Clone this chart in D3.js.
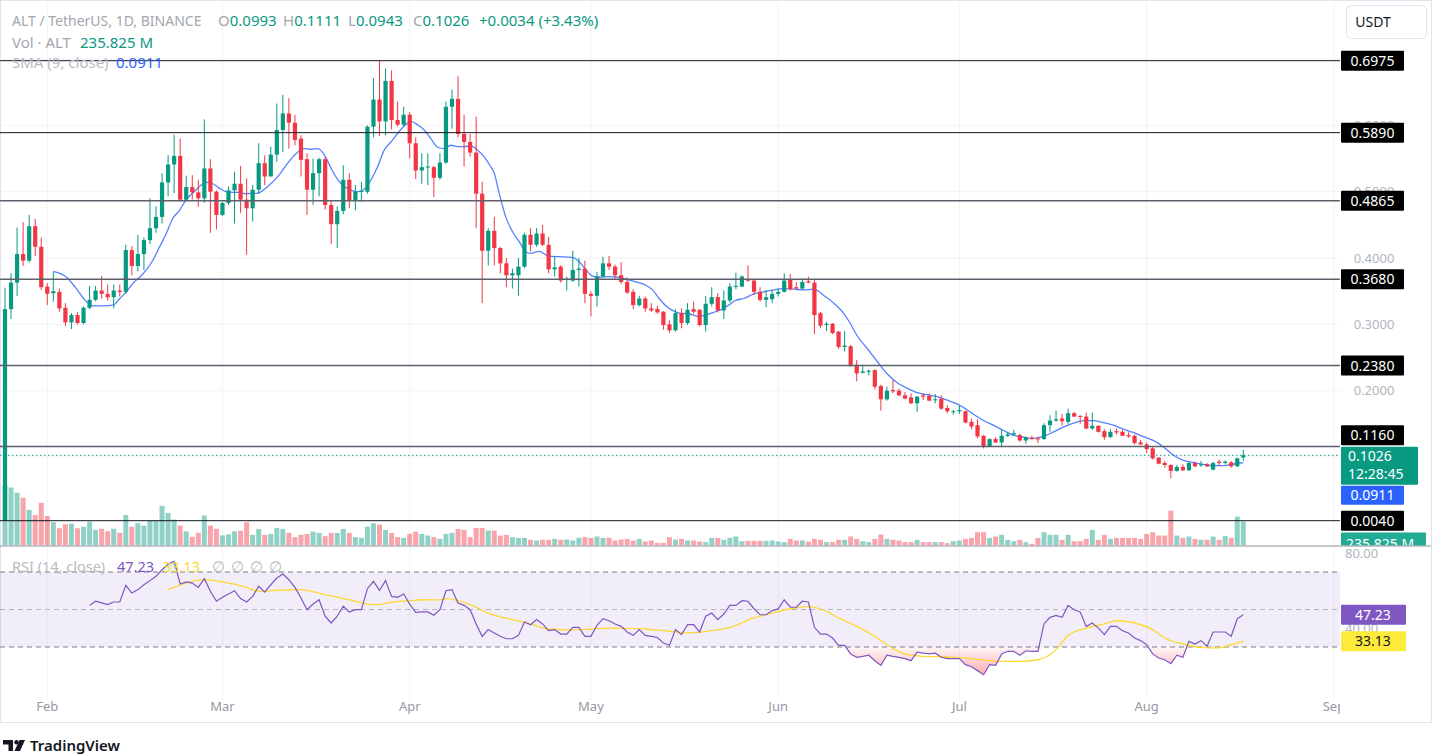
<!DOCTYPE html>
<html>
<head>
<meta charset="utf-8">
<script src="https://cdn.jsdelivr.net/npm/d3@7"></script>
<style>
  body { margin: 0; background: #fff; }
  svg text { font-family: "Noto Sans", "Open Sans", sans-serif; }
</style>
</head>
<body>
<div id="chart"></div>
<script>
// ALT / USDT daily candles, 25 Jan 2024 -> 17 Aug 2024
const opens = [
  .004,.323,.363,.406,.396,.448,.417,.357,.347,.349, .325,.303,.314,.302,.325,.337,.351,.346,.341,.351,
  .349,.412,.388,.406,.427,.445,.462,.514,.541,.554, .488,.507,.499,.490,.535,.500,.465,.483,.502,.512,
  .488,.475,.503,.543,.523,.556,.593,.618,.604,.580, .549,.503,.528,.549,.480,.451,.471,.518,.487,.500,
  .500,.598,.639,.606,.667,.608,.601,.616,.573,.532, .537,.537,.521,.544,.628,.640,.587,.575,.559,.497,
  .411,.441,.415,.392,.374,.374,.387,.435,.420,.437, .420,.383,.387,.367,.366,.382,.384,.346,.343,.372,
  .392,.387,.374,.364,.349,.329,.339,.324,.323,.319, .300,.291,.317,.302,.323,.322,.299,.331,.341,.321,
  .336,.357,.357,.368,.366,.349,.337,.338,.346,.349, .368,.356,.354,.365,.363,.317,.299,.301,.289,.266,
  .267,.239,.227,.229,.231,.207,.187,.201,.200,.193, .190,.181,.193,.192,.186,.188,.174,.168,.169,.169,
  .153,.148,.132,.116,.127,.122,.132,.134,.133,.125, .129,.128,.127,.148,.155,.158,.153,.166,.162,.161,
  .143,.147,.139,.130,.139,.138,.133,.132,.122,.119, .113,.099,.091,.088,.079,.085,.080,.091,.088,.089,
  .081,.093,.091,.092,.086,.0993
];
const highs = [
  .355,.377,.446,.454,.465,.459,.431,.362,.379,.354, .332,.317,.318,.327,.358,.358,.373,.360,.360,.360,
  .420,.418,.435,.431,.490,.478,.528,.555,.586,.580, .524,.525,.518,.609,.549,.502,.485,.508,.530,.539,
  .520,.510,.573,.555,.568,.633,.646,.641,.616,.585, .558,.550,.551,.552,.486,.478,.540,.528,.510,.515,
  .600,.671,.698,.686,.683,.636,.628,.620,.582,.558, .558,.539,.558,.636,.654,.674,.616,.587,.613,.515,
  .445,.462,.417,.400,.384,.400,.438,.445,.445,.450, .432,.402,.389,.372,.411,.400,.396,.350,.379,.402,
  .403,.390,.394,.371,.353,.343,.342,.332,.328,.320, .306,.323,.324,.332,.334,.323,.343,.356,.347,.351,
  .362,.378,.374,.389,.367,.356,.352,.352,.354,.377, .376,.364,.369,.372,.367,.319,.304,.302,.290,.290,
  .269,.246,.238,.232,.232,.209,.206,.216,.203,.198, .196,.192,.196,.196,.195,.193,.178,.171,.178,.170,
  .158,.157,.133,.128,.130,.141,.138,.141,.135,.131, .132,.131,.151,.163,.170,.165,.173,.168,.163,.167,
  .167,.148,.142,.142,.143,.141,.137,.134,.126,.122, .115,.100,.094,.089,.088,.089,.093,.093,.094,.091,
  .093,.096,.095,.094,.099,.1111
];
const lows = [
  .004,.308,.343,.388,.393,.403,.352,.329,.334,.319, .297,.293,.300,.300,.323,.335,.339,.336,.324,.342,
  .346,.374,.380,.382,.421,.438,.452,.493,.498,.485, .487,.488,.477,.483,.438,.443,.463,.480,.452,.468,
  .405,.455,.497,.510,.523,.545,.560,.565,.570,.523, .465,.480,.493,.473,.421,.415,.466,.475,.472,.485,
  .497,.582,.584,.585,.594,.598,.598,.550,.519,.512, .510,.492,.518,.542,.595,.582,.538,.553,.445,.332,
  .389,.389,.377,.356,.354,.343,.385,.410,.417,.418, .377,.372,.363,.351,.364,.357,.332,.312,.327,.371,
  .382,.369,.361,.346,.323,.327,.319,.319,.316,.292, .287,.289,.294,.299,.316,.297,.289,.327,.318,.308,
  .333,.353,.356,.364,.344,.334,.326,.332,.342,.348, .351,.352,.353,.362,.285,.294,.290,.285,.263,.259,
  .236,.214,.226,.223,.202,.170,.185,.196,.192,.187, .180,.168,.186,.184,.181,.171,.166,.164,.165,.151,
  .142,.128,.113,.115,.121,.116,.130,.132,.123,.120, .126,.121,.126,.138,.153,.147,.150,.160,.150,.142,
  .141,.137,.126,.129,.134,.132,.129,.119,.118,.106, .096,.089,.084,.068,.078,.079,.079,.085,.085,.085,
  .080,.088,.089,.084,.085,.0943
];
const closes = [
  .323,.363,.406,.396,.448,.417,.356,.346,.350,.324, .303,.314,.302,.325,.337,.351,.346,.341,.351,.349,
  .412,.388,.406,.427,.445,.462,.514,.541,.554,.488, .507,.499,.490,.535,.500,.465,.483,.502,.512,.488,
  .475,.503,.543,.523,.556,.593,.618,.604,.578,.548, .503,.528,.549,.480,.451,.471,.518,.487,.500,.501,
  .598,.639,.606,.667,.608,.601,.616,.573,.532,.537, .538,.521,.544,.628,.640,.587,.575,.559,.497,.411,
  .441,.415,.392,.374,.377,.387,.435,.420,.437,.420, .383,.386,.366,.369,.382,.384,.346,.343,.372,.392,
  .387,.374,.364,.348,.329,.339,.324,.321,.318,.299, .291,.317,.302,.322,.319,.299,.331,.341,.321,.336,
  .357,.358,.372,.366,.349,.337,.341,.346,.349,.366, .353,.354,.364,.363,.314,.298,.301,.287,.266,.268,
  .239,.226,.229,.230,.206,.187,.200,.199,.193,.188, .181,.191,.191,.185,.187,.173,.169,.169,.171,.152,
  .146,.131,.116,.127,.122,.132,.134,.136,.125,.130, .127,.127,.148,.155,.157,.154,.166,.161,.161,.143,
  .147,.138,.130,.138,.137,.132,.131,.121,.119,.112, .098,.090,.088,.079,.085,.080,.091,.086,.089,.086,
  .091,.091,.093,.086,.098,.1026
];
// volume, millions of ALT
const volumes = [
  590,570,520,470,350,300,420,290,230,170, 210,215,170,185,235,155,165,140,165,125,
  300,185,220,195,245,245,390,320,255,195, 140,85,125,295,195,165,100,110,140,145,
  230,105,163,105,114,173,163,124,82,105, 114,137,124,92,124,124,163,124,82,75,
  186,219,206,154,124,82,75,114,137,114, 98,82,65,114,124,163,154,82,173,173,
  147,147,98,105,82,75,75,56,49,56, 56,65,56,59,49,75,82,75,88,75,
  75,49,59,65,49,65,39,49,26,26, 82,59,65,49,49,39,33,75,75,56,
  75,88,42,46,46,46,46,49,39,33, 65,49,49,39,65,56,33,33,56,56,
  88,65,42,33,65,108,65,56,49,33, 33,56,33,33,33,33,23,42,49,65,
  75,131,131,75,88,105,56,42,56,33, 16,75,131,105,105,56,105,42,42,65,
  154,56,105,65,75,75,75,75,65,114, 131,98,98,343,98,75,88,65,56,56,
  88,56,95,75,284,235.825
];

// SMA(9) on price, sampled along the blue line: day offset from first candle, value
const smaDays = [
  8,10.2,11.8,13.5,14.6,16.3,17.9,19,20.1,21.2,22.3,23.4,24.5,25.6,26.7,27.8,28.9,30,31.1,32.2,33.3,34.4,35.5,36.6,37.7,38.8,39.9,
  41.9,43.5,45.2,46.8,48.5,49.6,50.7,51.8,52.9,54,55.1,56.2,57.3,58.4,59.5,60.6,61.7,62.8,63.9,65,66.1,67.2,68.3,69.4,70.5,71.6,72.7,73.8,74.9,76,77.1,78.2,79.3,80.4,81,
  81.8,82.9,84,85.1,86.2,87,88.4,90,91.7,93.9,95,96.1,97.2,98.4,100,101.7,102.8,104.4,106.1,107.2,108.3,109.4,110.5,111.6,113.2,114.9,116,117.6,118.7,119.8,120.9,
  122.3,124,125.6,127.3,128.9,130.6,132.2,133.9,135.5,137.2,138.8,139.9,141,142.7,144.4,146,147.7,149.3,151,152.6,154.3,155.9,157.6,159.3,160.9,162,
  163.6,165.3,166.9,168.6,170.2,171.9,173.6,175.2,176.9,178.5,180.2,181.8,183.5,185.1,186.8,188.4,190.1,191.8,193.4,195.1,196.7,198.4,200,201.7,203.3,204.4,205
];
const smaValues = [
  .380,.371,.354,.334,.328,.328,.329,.339,.349,.362,.371,.382,.397,.417,.437,.460,.472,.488,.498,.508,.514,.512,.505,.500,.499,.499,.497,
  .498,.508,.523,.543,.560,.565,.564,.565,.555,.535,.518,.508,.502,.500,.504,.518,.538,.563,.575,.588,.599,.606,.601,.593,.580,.567,.565,.570,.568,.568,.569,.563,.553,.538,.528,
  .498,.462,.440,.425,.410,.407,.410,.403,.402,.401,.395,.383,.373,.371,.372,.371,.368,.364,.359,.352,.339,.328,.321,.317,.316,.312,.314,.319,.323,.329,.336,
  .339,.346,.349,.352,.354,.353,.352,.353,.344,.332,.317,.302,.284,.264,.244,.226,.212,.204,.197,.194,.191,.186,.180,.171,.161,.155,
  .148,.140,.133,.130,.128,.131,.138,.145,.151,.155,.155,.152,.148,.142,.137,.131,.125,.115,.103,.095,.092,.089,.087,.087,.089,.091,.0911
];

// RSI(14), one value per candle from the 15th candle on
const rsiStart = 14;
const rsiValues = [
  52.2,54.4,53.5,52.6,54,54,62.9,58.8,60.6,63.2, 65.4,67.7,71.2,74.3,75.7,63.6,64.7,64.1,61.8,66.4,
  59.7,54.4,56.5,58.3,60,55.8,54,57,62.4,59.3, 63.2,66.8,68.9,65.9,61.8,56.1,49.9,52.9,55.2,46.4,
  42.8,46.4,51.7,48.7,49.9,49.9,61.1,65,60.2,65.4, 57,56.5,58.3,52.9,48.5,48.7,48.7,46.9,49.9,60,
  60.6,53.5,52.2,49.9,42.3,35.7,39.3,37.5,35.7,34.4, 34.4,36.2,43.3,41.9,44.6,42.3,38.7,39.3,36.9,36.9,
  40.5,40.5,35.7,35.7,41.6,45.1,44,42.3,41,38, 36.2,39.3,
  36.2,35.7,35.1,32.1,30.9,39.3,36.6,41.9,41.9,38, 46.4,48.1,44.6,47.6,52.2,52.2,54.7,54.4,50.4,47.2,
  47.2,49.4,50.3,55.2,51.2,51.2,54.4,54,40.5,36.9, 36.9,34.8,30.9,30.9,26.3,24.5,25,25.6,22.7,20.2,
  25.6,25,24.5,23.8,22.7,27.3,26.7,26.3,26.7,24.5, 23.8,23.8,23.8,20.6,19.5,17.4,15.2,20.6,20.2,26.3,
  27.7,27.7,25.6,28,27.7,27.7,42.3,45.8,46.9,45.8, 52.2,49.9,48.7,41,42.8,40.1,36.6,41,41,38.7,
  37.5,34.8,33.4,31.2,26.3,24.1,23.2,21.1,25.6,24.5, 33,31.6,33.4,30.4,38,38,38,35.7,45.1,47.23
];
// RSI-based MA (yellow), sampled
const rsiMaDays = [27,30,33,36,40,42,46,49,53,57,60,62,64,67,69,72,73,77,80,84,87,90,94,97,100,105,107,110,113,117,
  120,124,127,130,133,136,138,141,144,147,149,152,155,157,160,163,165,168,171,174,176,179,182,184,187,190,192,195,198,201,203,205];
const rsiMaValues = [60.6,64.1,65.9,64.7,61.8,59.7,60.4,60.6,57.9,55.2,52.9,52.6,54,54.7,55.2,55.1,55.8,52.6,48.1,44.6,
  42.3,39.6,39.1,39.6,40.1,39.8,39.3,38.4,37.5,38.7,40.5,45.5,48.1,50.4,51.5,49,45.5,41,35.7,29.1,
  26.3,25,24.8,24.5,23.8,22.7,22.3,22.3,23.2,28.6,36.2,40.1,42.3,44,42.8,39.3,34.8,31.6,29.8,29.5,31.2,33.13];

// drawn horizontal levels and axis ticks
const levels = [0.6975, 0.5890, 0.4865, 0.3680, 0.2380, 0.1160, 0.0040];
const priceTicks = [0.1, 0.2, 0.3, 0.4, 0.5, 0.6, 0.7];
const rsiTicks = [80, 40];
const rsiBands = [70, 50, 30];

const lastPrice = 0.1026;
const lastSma = 0.0911;

const W = 1435, H = 755;
const paneRight = 1340;
const priceBottom = 545.5;

const up = "#089981", down = "#f23645";
const day0 = Date.UTC(2024, 0, 25);
const dayMs = 864e5;
const dates = closes.map((d, i) => new Date(day0 + i * dayMs));

const x = d3.scaleUtc()
  .domain([dates[0], dates[dates.length - 1]])
  .range([5, 1243.3]);

const y = d3.scaleLinear()
  .domain([0.004, 0.6975])
  .range([520.7, 60.7]);

const yVol = d3.scaleLinear()
  .domain([0, 600])
  .range([priceBottom, priceBottom - 61]);

const yRsi = d3.scaleLinear()
  .domain([30, 70])
  .range([647, 572]);

const svg = d3.select("#chart").append("svg")
  .attr("width", W)
  .attr("height", H);

const defs = svg.append("defs");
defs.append("clipPath").attr("id", "pricePane")
  .append("rect").attr("x", 0).attr("y", 0).attr("width", paneRight).attr("height", priceBottom);
defs.append("clipPath").attr("id", "rsiPane")
  .append("rect").attr("x", 0).attr("y", priceBottom + 1).attr("width", paneRight).attr("height", 155);
defs.append("clipPath").attr("id", "timeAxis")
  .append("rect").attr("x", 0).attr("y", 690).attr("width", paneRight).attr("height", 30);
defs.append("clipPath").attr("id", "volLabel")
  .append("rect").attr("x", paneRight).attr("y", 500).attr("width", 95).attr("height", priceBottom - 500);

const gradRed = defs.append("linearGradient").attr("id", "oversold")
  .attr("gradientUnits", "userSpaceOnUse")
  .attr("x1", 0).attr("x2", 0).attr("y1", yRsi(30)).attr("y2", yRsi(14));
gradRed.append("stop").attr("offset", 0).attr("stop-color", down).attr("stop-opacity", 0.04);
gradRed.append("stop").attr("offset", 1).attr("stop-color", down).attr("stop-opacity", 0.45);

const gradGreen = defs.append("linearGradient").attr("id", "overbought")
  .attr("gradientUnits", "userSpaceOnUse")
  .attr("x1", 0).attr("x2", 0).attr("y1", yRsi(70)).attr("y2", yRsi(80));
gradGreen.append("stop").attr("offset", 0).attr("stop-color", up).attr("stop-opacity", 0.04);
gradGreen.append("stop").attr("offset", 1).attr("stop-color", up).attr("stop-opacity", 0.4);

// frame
svg.append("rect")
  .attr("x", 0.5).attr("y", 0.5)
  .attr("width", 1431).attr("height", 722)
  .attr("fill", "none")
  .attr("stroke", "#e0e3eb");

// grid
const months = d3.utcMonth.range(new Date(Date.UTC(2024, 1, 1)), new Date(Date.UTC(2024, 8, 2)));
svg.append("g")
  .selectAll("line")
  .data(months)
  .enter()
  .append("line")
  .attr("x1", d => x(d)).attr("x2", d => x(d))
  .attr("y1", 0).attr("y2", 700)
  .attr("stroke", "#f2f3f6");

svg.append("g")
  .selectAll("line")
  .data(priceTicks)
  .enter()
  .append("line")
  .attr("x1", 0).attr("x2", paneRight)
  .attr("y1", d => y(d)).attr("y2", d => y(d))
  .attr("stroke", "#f2f3f6");

// price pane
const pane = svg.append("g").attr("clip-path", "url(#pricePane)");

pane.append("g")
  .selectAll("rect")
  .data(volumes)
  .enter()
  .append("rect")
  .attr("x", (d, i) => x(dates[i]) - 2.5)
  .attr("width", 5)
  .attr("y", d => yVol(d))
  .attr("height", d => priceBottom - yVol(d))
  .attr("fill", (d, i) => closes[i] >= opens[i] ? up : down)
  .attr("fill-opacity", 0.45);

// current price dotted line
pane.append("line")
  .attr("x1", 0).attr("x2", paneRight)
  .attr("y1", y(lastPrice)).attr("y2", y(lastPrice))
  .attr("stroke", up)
  .attr("stroke-dasharray", "1.5 2.5")
  .attr("stroke-width", 1);

const smaLine = d3.line()
  .x((d, i) => x(new Date(day0 + smaDays[i] * dayMs)))
  .y(d => y(d))
  .curve(d3.curveMonotoneX);

pane.append("path")
  .datum(smaValues)
  .attr("fill", "none")
  .attr("stroke", "#2962ff")
  .attr("stroke-opacity", 0.8)
  .attr("stroke-width", 1.3)
  .attr("d", smaLine);

const candles = pane.append("g")
  .selectAll("g")
  .data(closes)
  .enter()
  .append("g");

candles.append("line")
  .attr("x1", (d, i) => x(dates[i]))
  .attr("x2", (d, i) => x(dates[i]))
  .attr("y1", (d, i) => y(highs[i]))
  .attr("y2", (d, i) => y(lows[i]))
  .attr("stroke", (d, i) => d >= opens[i] ? up : down)
  .attr("stroke-width", 1);

candles.append("rect")
  .attr("x", (d, i) => x(dates[i]) - 2.1)
  .attr("width", 4.2)
  .attr("y", (d, i) => y(Math.max(d, opens[i])))
  .attr("height", (d, i) => Math.max(1, Math.abs(y(d) - y(opens[i]))))
  .attr("fill", (d, i) => d >= opens[i] ? up : down);

// horizontal levels
pane.append("g")
  .selectAll("line")
  .data(levels)
  .enter()
  .append("line")
  .attr("x1", 0).attr("x2", paneRight)
  .attr("y1", d => y(d)).attr("y2", d => y(d))
  .attr("stroke", (d, i) => (i < 2 || i === levels.length - 1) ? "#131722" : "#5d606b")
  .attr("stroke-width", (d, i) => (i < 2 || i === levels.length - 1) ? 1 : 1.5);

// price axis: the last-price box sits on its own line, a level label just above it is pushed up
const lastTop = y(lastPrice) - 8.5;
const labelY = d => {
  const yy = y(d);
  return (yy > lastTop - 10 && yy <= y(lastPrice)) ? lastTop - 11.5 : yy;
};
const hidden = t => levels.some(l => Math.abs(y(l) - y(t)) < 4) || Math.abs(y(lastPrice) - y(t)) < 4;

svg.append("g")
  .selectAll("text")
  .data(priceTicks.filter(t => !hidden(t)))
  .enter()
  .append("text")
  .attr("x", 1374)
  .attr("y", d => y(d))
  .attr("dy", "0.35em")
  .attr("text-anchor", "middle")
  .attr("font-size", 13)
  .attr("fill", "#b2b5be")
  .text(d => d.toFixed(4));

const levelLabels = svg.append("g")
  .selectAll("g")
  .data(levels)
  .enter()
  .append("g");

levelLabels.append("rect")
  .attr("x", paneRight + 1)
  .attr("y", d => labelY(d) - 10)
  .attr("width", 63)
  .attr("height", 20)
  .attr("rx", 1)
  .attr("fill", "#000");

levelLabels.append("text")
  .attr("x", paneRight + 32.5)
  .attr("y", d => labelY(d))
  .attr("dy", "0.36em")
  .attr("text-anchor", "middle")
  .attr("font-size", 14)
  .attr("fill", "#fff")
  .text(d => d.toFixed(4));

// last price label
svg.append("rect")
  .attr("x", paneRight + 1).attr("y", lastTop)
  .attr("width", 77).attr("height", 38)
  .attr("rx", 1)
  .attr("fill", up);
svg.append("text")
  .attr("x", paneRight + 8).attr("y", y(lastPrice) + 1)
  .attr("dy", "0.35em")
  .attr("font-size", 14).attr("fill", "#fff")
  .text(lastPrice.toFixed(4));
svg.append("text")
  .attr("x", paneRight + 8).attr("y", y(lastPrice) + 19)
  .attr("dy", "0.35em")
  .attr("font-size", 14).attr("fill", "#fff")
  .text("12:28:45");

// SMA label, stacked under the last price box
svg.append("rect")
  .attr("x", paneRight + 1).attr("y", lastTop + 39)
  .attr("width", 63).attr("height", 19)
  .attr("rx", 1)
  .attr("fill", "#2962ff");
svg.append("text")
  .attr("x", paneRight + 32.5).attr("y", lastTop + 48.5)
  .attr("dy", "0.35em")
  .attr("text-anchor", "middle")
  .attr("font-size", 14).attr("fill", "#fff")
  .text(lastSma.toFixed(4));

// volume label (clipped by the pane edge)
const volLab = svg.append("g").attr("clip-path", "url(#volLabel)");
volLab.append("rect")
  .attr("x", paneRight + 1).attr("y", yVol(volumes[volumes.length - 1]) + 11)
  .attr("width", 85).attr("height", 22)
  .attr("rx", 1)
  .attr("fill", "#22ab94");
volLab.append("text")
  .attr("x", paneRight + 6).attr("y", yVol(volumes[volumes.length - 1]) + 23)
  .attr("dy", "0.35em")
  .attr("font-size", 14).attr("fill", "#fff")
  .text(d3.format(".3f")(volumes[volumes.length - 1]) + " M");

// pane separator
svg.append("line")
  .attr("x1", 0).attr("x2", 1431)
  .attr("y1", priceBottom + 0.5).attr("y2", priceBottom + 0.5)
  .attr("stroke", "#8f929b")
  .attr("stroke-width", 1.2);

// RSI pane
const rsi = svg.append("g").attr("clip-path", "url(#rsiPane)");

rsi.append("rect")
  .attr("x", 0).attr("width", paneRight)
  .attr("y", yRsi(70)).attr("height", yRsi(30) - yRsi(70))
  .attr("fill", "#7e57c2")
  .attr("fill-opacity", 0.1);

rsi.append("g")
  .selectAll("line")
  .data(rsiBands)
  .enter()
  .append("line")
  .attr("x1", 0).attr("x2", paneRight)
  .attr("y1", d => yRsi(d)).attr("y2", d => yRsi(d))
  .attr("stroke", d => d === 50 ? "#b2b5be" : "#787b86")
  .attr("stroke-dasharray", "5 4")
  .attr("stroke-width", 1);

const rsiX = (d, i) => x(dates[rsiStart + i]);

rsi.append("path")
  .datum(rsiValues)
  .attr("fill", "url(#oversold)")
  .attr("d", d3.area().x(rsiX).y0(yRsi(30)).y1(d => yRsi(Math.min(d, 30))));

rsi.append("path")
  .datum(rsiValues)
  .attr("fill", "url(#overbought)")
  .attr("d", d3.area().x(rsiX).y0(yRsi(70)).y1(d => yRsi(Math.max(d, 70))));

rsi.append("path")
  .datum(rsiMaValues)
  .attr("fill", "none")
  .attr("stroke", "#fdd835")
  .attr("stroke-width", 1.3)
  .attr("d", d3.line()
    .x((d, i) => x(new Date(day0 + rsiMaDays[i] * dayMs)))
    .y(d => yRsi(d))
    .curve(d3.curveMonotoneX));

rsi.append("path")
  .datum(rsiValues)
  .attr("fill", "none")
  .attr("stroke", "#7e57c2")
  .attr("stroke-width", 1.2)
  .attr("d", d3.line().x(rsiX).y(d => yRsi(d)));

svg.append("g")
  .selectAll("text")
  .data(rsiTicks)
  .enter()
  .append("text")
  .attr("x", 1345)
  .attr("y", d => yRsi(d))
  .attr("dy", "0.35em")
  .attr("font-size", 13)
  .attr("fill", "#b2b5be")
  .text(d => d.toFixed(2));

const rsiLast = rsiValues[rsiValues.length - 1];
const maLast = rsiMaValues[rsiMaValues.length - 1];
svg.append("rect")
  .attr("x", paneRight + 1).attr("y", yRsi(rsiLast) - 10)
  .attr("width", 65).attr("height", 20).attr("rx", 1)
  .attr("fill", "#7e57c2");
svg.append("text")
  .attr("x", paneRight + 33).attr("y", yRsi(rsiLast))
  .attr("dy", "0.36em").attr("text-anchor", "middle")
  .attr("font-size", 14).attr("fill", "#fff")
  .text(rsiLast.toFixed(2));
svg.append("rect")
  .attr("x", paneRight + 1).attr("y", yRsi(maLast) - 10)
  .attr("width", 65).attr("height", 20).attr("rx", 1)
  .attr("fill", "#fdeb3b");
svg.append("text")
  .attr("x", paneRight + 33).attr("y", yRsi(maLast))
  .attr("dy", "0.36em").attr("text-anchor", "middle")
  .attr("font-size", 14).attr("fill", "#131722")
  .text(maLast.toFixed(2));

// time axis
svg.append("g")
  .attr("clip-path", "url(#timeAxis)")
  .selectAll("text")
  .data(months)
  .enter()
  .append("text")
  .attr("x", d => x(d))
  .attr("y", 706)
  .attr("dy", "0.35em")
  .attr("text-anchor", "middle")
  .attr("font-size", 13)
  .attr("fill", "#9598a1")
  .text(d3.utcFormat("%b"));

// legends
const gray = "#a3a6af";
const l1 = svg.append("text").attr("x", 12).attr("y", 21).attr("dy", "0.35em").attr("font-size", 15);
l1.append("tspan").attr("fill", gray).attr("font-size", 14).text("ALT / TetherUS, 1D, BINANCE");
[["O", opens], ["H", highs], ["L", lows], ["C", closes]].forEach(([k, arr], j) => {
  l1.append("tspan").attr("x", 218 + j * 65).attr("fill", gray).text(k);
  l1.append("tspan").attr("fill", up).text(arr[arr.length - 1].toFixed(4));
});
l1.append("tspan").attr("x", 479).attr("fill", up)
  .text("+0.0034 (+3.43%)");

const l2 = svg.append("text").attr("x", 12).attr("y", 43).attr("dy", "0.35em").attr("font-size", 15);
l2.append("tspan").attr("fill", gray).text("Vol · ALT");
l2.append("tspan").attr("x", 80).attr("fill", up).text(d3.format(".3f")(volumes[volumes.length - 1]) + " M");

const l3 = svg.append("text").attr("x", 12).attr("y", 63).attr("dy", "0.35em").attr("font-size", 15);
l3.append("tspan").attr("fill", "#b8bbc3").text("SMA (9, close)");
l3.append("tspan").attr("x", 116).attr("fill", "#2962ff").text(lastSma.toFixed(4));

const l4 = svg.append("text").attr("x", 12).attr("y", 567).attr("dy", "0.35em").attr("font-size", 14.5);
l4.append("tspan").attr("fill", "#b8bbc3").text("RSI (14, close)");
l4.append("tspan").attr("x", 117).attr("fill", "#7e57c2").text(rsiLast.toFixed(2));
l4.append("tspan").attr("x", 163).attr("fill", "#fdd835").text(maLast.toFixed(2));
[212, 231, 250, 269].forEach(px => {
  l4.append("tspan").attr("x", px).attr("fill", "#b8bbc3").text("∅");
});

// currency button
svg.append("rect")
  .attr("x", 1346.5).attr("y", 5.5)
  .attr("width", 80).attr("height", 33).attr("rx", 5)
  .attr("fill", "#fff").attr("stroke", "#e0e3eb");
svg.append("text")
  .attr("x", 1373).attr("y", 22)
  .attr("dy", "0.35em").attr("text-anchor", "middle")
  .attr("font-size", 14).attr("fill", "#131722")
  .text("USDT");

// TradingView mark
const logo = svg.append("g").attr("fill", "#131722");
logo.append("path").attr("d", "M3,740 h10 v11 h-4.5 v-6.5 h-5.5 z");
logo.append("circle").attr("cx", 16.5).attr("cy", 742.2).attr("r", 2.2);
logo.append("path").attr("d", "M19.5,740 h5.5 l-5,11 h-5.5 z");
svg.append("text")
  .attr("x", 30).attr("y", 746)
  .attr("dy", "0.35em")
  .attr("font-size", 15).attr("font-weight", 600)
  .attr("fill", "#131722")
  .text("TradingView");
</script>
</body>
</html>
